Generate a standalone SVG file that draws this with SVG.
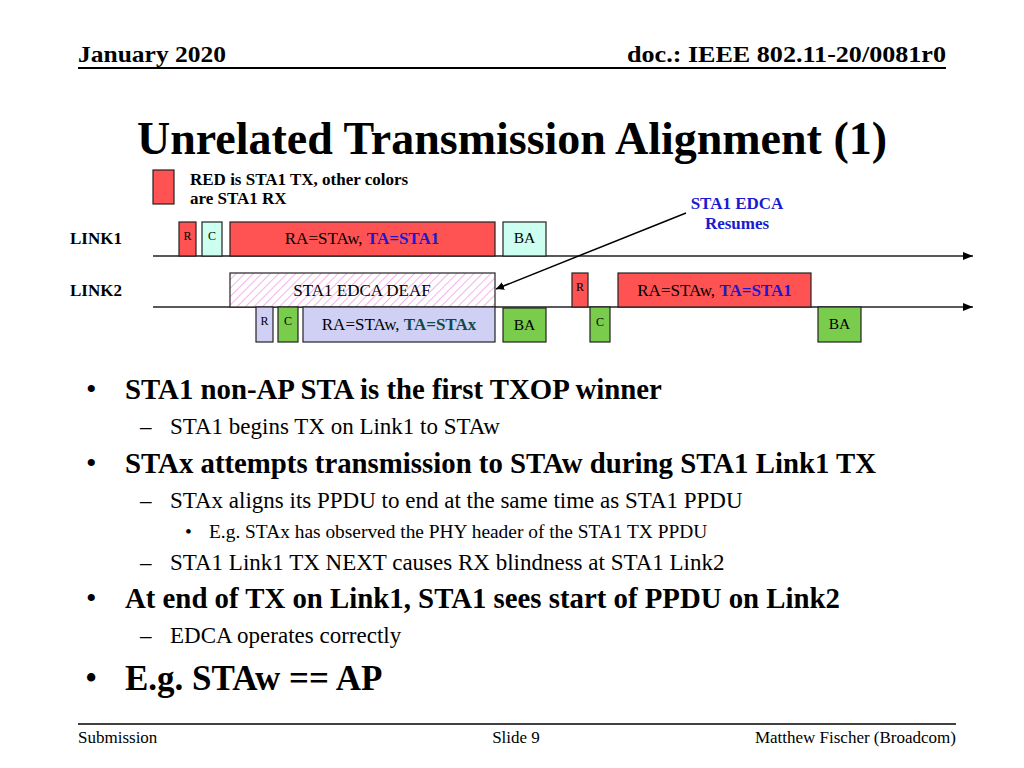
<svg xmlns="http://www.w3.org/2000/svg" width="1024" height="768" viewBox="0 0 1024 768">
<style>
text{font-family:"Liberation Serif","Times New Roman",serif;fill:#000}
.b{font-weight:bold}
.box{stroke:#222;stroke-width:1.2}
.red{fill:#ff5252}
.cyan{fill:#ccfff0}
.green{fill:#7acc4c}
.lav{fill:#d0d0f5}
.sm{font-size:12px}
.md{font-size:17px}
.ba{font-size:15.5px}
.blue{fill:#1a1ad0;font-weight:bold}
.teal{fill:#0f4a4a;font-weight:bold}
.l1{font-size:28.8px;font-weight:bold}
.l2{font-size:23px}
.l3{font-size:19.4px}
.ax{stroke:#222;stroke-width:1.5;fill:none}
.ft{font-size:17px}
</style>
<defs>
<pattern id="hatch" patternUnits="userSpaceOnUse" width="6" height="6" patternTransform="rotate(45)">
<rect width="6" height="6" fill="#fff"/>
<line x1="0" y1="0" x2="0" y2="6" stroke="#f4b4ea" stroke-width="2"/>
</pattern>
<marker id="ah" viewBox="0 0 10 10" refX="10" refY="5" markerWidth="8" markerHeight="8" orient="auto" markerUnits="userSpaceOnUse">
<path d="M0,0 L10,5 L0,10 z" fill="#000"/>
</marker>
<marker id="ah2" viewBox="0 0 10 10" refX="10" refY="5" markerWidth="10" markerHeight="10" orient="auto" markerUnits="userSpaceOnUse">
<path d="M0,1 L10,5 L0,9 z" fill="#000"/>
</marker>
</defs>
<rect width="1024" height="768" fill="#fff"/>

<g id="header">
<text x="78" y="62" class="b" font-size="24" textLength="148" lengthAdjust="spacingAndGlyphs">January 2020</text>
<text x="627" y="62" class="b" font-size="24" textLength="319" lengthAdjust="spacingAndGlyphs">doc.: IEEE 802.11-20/0081r0</text>
<line x1="78" y1="68" x2="946" y2="68" stroke="#000" stroke-width="2"/>
</g>

<g id="title">
<text x="512" y="154" class="b" font-size="46" text-anchor="middle">Unrelated Transmission Alignment (1)</text>
</g>

<g id="legend">
<rect x="153" y="170" width="21" height="34" class="box red"/>
<text x="190" y="185" class="b" font-size="17">RED is STA1 TX, other colors</text>
<text x="190" y="204" class="b" font-size="17">are STA1 RX</text>
</g>

<g id="labels">
<text x="70" y="244" class="b" font-size="17">LINK1</text>
<text x="70" y="296" class="b" font-size="17">LINK2</text>
<text x="737" y="209" class="blue" font-size="17" text-anchor="middle">STA1 EDCA</text>
<text x="737" y="229" class="blue" font-size="17" text-anchor="middle">Resumes</text>
</g>

<g id="connectors">
<line x1="153" y1="256" x2="973" y2="256" class="ax" marker-end="url(#ah2)"/>
<line x1="153" y1="307" x2="973" y2="307" class="ax" marker-end="url(#ah2)"/>
<line x1="686" y1="213" x2="496" y2="289" stroke="#000" stroke-width="1.5" marker-end="url(#ah)"/>
</g>

<g id="link1-r"><rect x="179" y="222" width="17" height="34" class="box red"/><text x="187.5" y="240" class="sm" text-anchor="middle">R</text></g>
<g id="link1-c"><rect x="202" y="222" width="20" height="34" class="box cyan"/><text x="212" y="240" class="sm" text-anchor="middle">C</text></g>
<g id="link1-data"><rect x="230" y="222" width="265" height="34" class="box red"/><text x="362" y="244" class="md" text-anchor="middle">RA=STAw, <tspan class="blue">TA=STA1</tspan></text></g>
<g id="link1-ba"><rect x="503" y="222" width="43" height="34" class="box cyan"/><text x="524.5" y="243" class="ba" text-anchor="middle">BA</text></g>

<g id="link2-deaf"><rect x="230" y="273" width="265" height="34" class="box" fill="url(#hatch)"/><text x="362" y="296" class="md" text-anchor="middle">STA1 EDCA DEAF</text></g>
<g id="link2-r1"><rect x="256" y="307" width="17" height="35" class="box lav"/><text x="264.5" y="325" class="sm" text-anchor="middle">R</text></g>
<g id="link2-c1"><rect x="278" y="307" width="20" height="35" class="box green"/><text x="288" y="325" class="sm" text-anchor="middle">C</text></g>
<g id="link2-x"><rect x="303" y="307" width="192" height="35" class="box lav"/><text x="399" y="330" class="md" text-anchor="middle">RA=STAw, <tspan class="teal">TA=STAx</tspan></text></g>
<g id="link2-ba1"><rect x="503" y="308" width="43" height="34" class="box green"/><text x="524.5" y="330" class="ba" text-anchor="middle">BA</text></g>
<g id="link2-r2"><rect x="572" y="273" width="16" height="34" class="box red"/><text x="580" y="291" class="sm" text-anchor="middle">R</text></g>
<g id="link2-c2"><rect x="590" y="307" width="20" height="35" class="box green"/><text x="600" y="326" class="sm" text-anchor="middle">C</text></g>
<g id="link2-data"><rect x="618" y="273" width="193" height="34" class="box red"/><text x="714.5" y="296" class="md" text-anchor="middle">RA=STAw, <tspan class="blue">TA=STA1</tspan></text></g>
<g id="link2-ba2"><rect x="818" y="307" width="43" height="35" class="box green"/><text x="839.5" y="329" class="ba" text-anchor="middle">BA</text></g>

<g id="bullets">
<text x="86" y="399" font-size="30">•</text>
<text x="125" y="399" class="l1">STA1 non-AP STA is the first TXOP winner</text>
<text x="140" y="434" class="l2">–</text>
<text x="170" y="434" class="l2">STA1 begins TX on Link1 to STAw</text>
<text x="86" y="473" font-size="30">•</text>
<text x="125" y="473" class="l1">STAx attempts transmission to STAw during STA1 Link1 TX</text>
<text x="140" y="508" class="l2">–</text>
<text x="170" y="508" class="l2">STAx aligns its PPDU to end at the same time as STA1 PPDU</text>
<text x="185" y="538" class="l3">•</text>
<text x="209" y="538" class="l3">E.g. STAx has observed the PHY header of the STA1 TX PPDU</text>
<text x="140" y="570" class="l2">–</text>
<text x="170" y="570" class="l2">STA1 Link1 TX NEXT causes RX blindness at STA1 Link2</text>
<text x="86" y="608" font-size="30">•</text>
<text x="125" y="608" class="l1">At end of TX on Link1, STA1 sees start of PPDU on Link2</text>
<text x="140" y="643" class="l2">–</text>
<text x="170" y="643" class="l2">EDCA operates correctly</text>
<text x="85" y="690" font-size="35">•</text>
<text x="125" y="690" class="b" font-size="35">E.g. STAw == AP</text>
</g>

<g id="footer">
<line x1="78" y1="724" x2="956" y2="724" stroke="#000" stroke-width="1.5"/>
<text x="78" y="743" class="ft">Submission</text>
<text x="516" y="743" class="ft" text-anchor="middle">Slide 9</text>
<text x="956" y="743" class="ft" text-anchor="end">Matthew Fischer (Broadcom)</text>
</g>
</svg>
